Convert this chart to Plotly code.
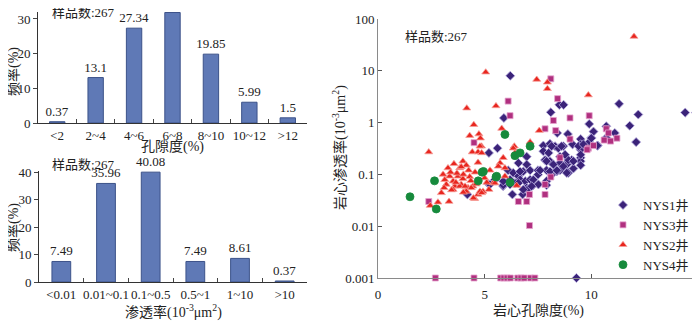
import plotly.graph_objects as go

# porosity histogram
por_cats = ['<2', '2~4', '4~6', '6~8', '8~10', '10~12', '>12']
por_freq = [0.37, 13.1, 27.34, 31.85, 19.85, 5.99, 1.5]

# permeability histogram
perm_cats = ['<0.01', '0.01~0.1', '0.1~0.5', '0.5~1', '1~10', '>10']
perm_freq = [7.49, 35.96, 40.08, 7.49, 8.61, 0.37]

# core porosity (%) vs permeability (10^-3 um^2), per well
nys1_x = [6.2, 8.5, 8.7, 11.3, 14.4, 14.9, 12.2, 11.8, 12.1, 5.9, 8.1, 9.9, 10.1, 10.7, 11.1,
          10.7, 10.0, 9.6, 10.3, 9.5, 9.5, 9.5, 8.4, 8.9, 9.5, 9.9, 9.5, 9.5, 9.5,
          7.75, 8.06, 8.3, 7.75, 8.0, 8.45, 8.69, 7.83, 8.06, 8.53, 8.77, 8.92, 8.69, 8.53,
          8.85, 9.08, 9.16, 8.92, 7.9, 8.14, 8.38,
          5.2, 5.6, 6.97, 6.1, 6.34, 6.58, 6.81, 7.13, 7.5, 6.66, 6.9, 6.42, 6.19, 5.87,
          6.97, 7.13, 7.5, 7.9, 6.3, 6.78, 7.0, 5.2, 5.87, 7.28, 7.9, 4.19, 9.3,
          5.87, 6.66, 7.6, 7.28, 7.52, 7.2, 6.19, 5.48, 5.25, 8.06, 8.38, 8.53, 8.69,
          8.92, 8.77, 8.85, 9.16, 8.22, 7.9, 6.58, 6.97, 6.58, 6.81,
          8.14, 8.6, 9.12, 9.4, 9.63, 10.0, 10.28]
nys1_y = [8.0, 2.2, 2.2, 2.3, 1.56, 1.56, 1.43, 0.87, 0.42, 1.23, 1.58, 0.94, 0.67, 0.85, 0.63,
          0.51, 0.51, 0.39, 0.36, 0.21, 0.18, 0.15, 0.63, 0.6, 0.48, 0.42, 0.38, 0.30, 0.24,
          0.36, 0.39, 0.35, 0.28, 0.26, 0.32, 0.35, 0.19, 0.18, 0.22, 0.24, 0.18, 0.14, 0.12,
          0.155, 0.19, 0.13, 0.107, 0.12, 0.099, 0.114,
          0.26, 0.32, 0.22, 0.12, 0.107, 0.092, 0.114, 0.12, 0.12, 0.079, 0.074, 0.068, 0.079, 0.059,
          0.055, 0.079, 0.099, 0.074, 0.041, 0.041, 0.051, 0.064, 0.062, 0.062, 0.062, 0.041, 0.001,
          0.074, 0.114, 0.12, 0.079, 0.064, 0.059, 0.064, 0.079, 0.064, 0.114, 0.12, 0.166, 0.143,
          0.19, 0.24, 0.107, 0.18, 0.155, 0.18, 0.166, 0.155, 0.068, 0.051,
          0.35, 0.35, 0.38, 0.35, 0.38, 0.5, 0.36]

nys3_x = [8.1, 6.1, 8.42, 6.19, 8.22, 9.0, 9.9, 7.83, 8.33, 10.7, 10.8, 11.2, 10.6, 10.9,
          9.86, 10.1, 9.0, 4.5, 2.38, 7.1, 7.83, 6.58, 6.97, 7.1, 7.83, 8.1, 8.53, 9.8,
          2.69, 4.5, 5.75, 5.9, 6.05, 6.2, 6.55, 6.7, 6.85, 7.15, 7.35]
nys3_y = [7.0, 2.6, 2.9, 1.36, 1.1, 1.23, 1.36, 0.76, 0.70, 0.76, 0.63, 0.5, 0.46, 0.44,
          0.32, 0.36, 0.48, 0.41, 0.030, 0.041, 0.041, 0.030, 0.030, 0.0103, 0.064, 0.089, 0.21, 0.30,
          0.001, 0.001, 0.001, 0.001, 0.001, 0.001, 0.001, 0.001, 0.001, 0.001, 0.001]

nys2_x = [12.0, 5.05, 7.44, 7.94, 7.94, 9.86, 4.16, 5.53, 4.49, 4.3, 4.73, 4.8, 5.8, 7.56,
          7.13, 6.39, 2.38, 4.42, 4.69, 4.85, 4.69, 3.56, 3.98, 4.14, 3.83, 3.28, 3.13, 3.36,
          3.52, 3.75, 3.98, 3.2, 3.6, 3.9, 4.22, 4.45, 2.45, 2.81, 3.33, 2.97, 3.52, 3.83,
          4.14, 4.37, 4.53, 4.69, 4.92, 4.47, 4.08, 4.78, 5.25, 5.72, 5.87, 5.95, 5.64, 6.34,
          6.42, 5.95, 5.4, 6.5, 5.2, 5.48, 4.86, 4.86, 4.78,
          3.4, 3.7, 4.0, 4.3, 3.05, 3.65, 4.35, 3.45, 4.0, 3.1, 4.6, 4.25, 3.9, 4.55, 5.0, 5.1]
nys2_y = [46, 9.4, 6.8, 6.0, 4.5, 3.4, 1.9, 2.1, 0.91, 0.56, 0.6, 0.5, 0.77, 0.70,
          0.42, 0.35, 0.27, 0.27, 0.27, 0.35, 0.17, 0.16, 0.18, 0.15, 0.133, 0.133, 0.079, 0.092,
          0.074, 0.092, 0.082, 0.064, 0.059, 0.064, 0.055, 0.059, 0.025, 0.029, 0.030, 0.044, 0.051, 0.059,
          0.047, 0.055, 0.034, 0.041, 0.047, 0.035, 0.059, 0.047, 0.12, 0.166, 0.21, 0.133, 0.143, 0.32,
          0.26, 0.092, 0.068, 0.061, 0.051, 0.068, 0.044, 0.26, 0.35,
          0.11, 0.105, 0.1, 0.09, 0.1, 0.07, 0.075, 0.05, 0.045, 0.055, 0.065, 0.12, 0.14, 0.11, 0.085, 0.07]

nys4_x = [1.5, 2.65, 2.73, 4.7, 4.88, 5.56, 5.95, 6.42, 6.66, 7.13, 6.19, 5.53, 4.94]
nys4_y = [0.037, 0.075, 0.0215, 0.075, 0.11, 0.092, 0.59, 0.23, 0.26, 0.35, 0.07, 0.089, 0.114]

FONT = 'Liberation Serif, Noto Sans CJK SC, serif'
BAR_FILL = '#5f79b6'
BAR_EDGE = '#3c5289'
W, H = 700, 321
PAGE_PAD = 8  # the page body's default margin shifts the figure


def fx(px):
    return (px - PAGE_PAD) / W


def fy(py):
    return 1 - (py - PAGE_PAD) / H


fig = go.Figure()

fig.add_trace(go.Bar(x=por_cats, y=por_freq, text=[str(v) for v in por_freq],
                     textposition='outside', cliponaxis=False, constraintext='none',
                     marker=dict(color=BAR_FILL, line=dict(color=BAR_EDGE, width=1)),
                     width=0.4, showlegend=False, xaxis='x', yaxis='y'))
fig.add_trace(go.Bar(x=perm_cats, y=perm_freq, text=[str(v) for v in perm_freq],
                     textposition='outside', cliponaxis=False, constraintext='none',
                     marker=dict(color=BAR_FILL, line=dict(color=BAR_EDGE, width=1)),
                     width=0.42, showlegend=False, xaxis='x2', yaxis='y2'))

wells = [
    ('NYS1井', nys1_x, nys1_y, 'diamond', '#3b2379', '#b9aee0', 7),
    ('NYS3井', nys3_x, nys3_y, 'square', '#b0307f', '#e6a5cf', 6),
    ('NYS2井', nys2_x, nys2_y, 'triangle-up', '#e8261f', '#f6a09a', 7),
    ('NYS4井', nys4_x, nys4_y, 'circle', '#168a3c', '#168a3c', 8),
]
for name, xs, ys, sym, col, edge, size in wells:
    fig.add_trace(go.Scatter(x=xs, y=ys, mode='markers', name=name, cliponaxis=False,
                             marker=dict(symbol=sym, color=col, size=size,
                                         line=dict(color=edge, width=0.8)),
                             xaxis='x3', yaxis='y3'))

axis_common = dict(showline=True, linecolor='#333333', linewidth=1, showgrid=False,
                   zeroline=False, automargin=False,
                   tickfont=dict(family=FONT, size=13, color='#222'))
scatter_axis = {**axis_common, 'linecolor': '#8a8a8a', 'tickcolor': '#555'}

fig.update_layout(
    width=W, height=H,
    margin=dict(l=0, r=0, t=0, b=0),
    paper_bgcolor='white', plot_bgcolor='white',
    font=dict(family=FONT, size=13, color='#222'),
    xaxis=dict(domain=[fx(38), fx(307)], anchor='y', type='category',
               tickson='boundaries', ticks='inside', ticklen=4, tickangle=0,
               **axis_common),
    yaxis=dict(domain=[fy(123), fy(12)], anchor='x', range=[0, 32],
               tickvals=[0, 10, 20, 30], ticks='outside', ticklen=4,
               **axis_common),
    xaxis2=dict(domain=[fx(39), fx(307)], anchor='y2', type='category',
                tickson='boundaries', ticks='inside', ticklen=4, tickangle=0,
                **axis_common),
    yaxis2=dict(domain=[fy(282), fy(171)], anchor='x2', range=[0, 40.5],
                tickvals=[0, 10, 20, 30, 40], ticks='outside', ticklen=4,
                **axis_common),
    xaxis3=dict(domain=[fx(378), fx(698)], anchor='y3', range=[0, 15],
                tickvals=[0, 5, 10, 15], ticks='inside', ticklen=4, ticklabelstandoff=4,
                **scatter_axis),
    yaxis3=dict(domain=[fy(278), fy(19)], anchor='x3', type='log', range=[-3, 2],
                tickvals=[0.001, 0.01, 0.1, 1, 10, 100],
                ticktext=['0.001', '0.01', '0.1', '1', '10', '100'],
                ticks='inside', ticklen=4,
                **scatter_axis),
    legend=dict(x=fx(603), y=fy(190), xanchor='left', yanchor='top',
                bgcolor='rgba(0,0,0,0)', font=dict(family=FONT, size=13),
                itemwidth=30, tracegroupgap=0),
)

# axis titles and sample counts, placed in screen pixels
labels = [
    ('频率(%)', 13, 72, -90),
    ('频率(%)', 13, 228, -90),
    ('孔隙度(%)', 172, 147, 0),
    ('渗透率(10<sup>-3</sup>μm<sup>2</sup>)', 173, 311, 0),
    ('岩心渗透率(10<sup>-3</sup>μm<sup>2</sup>)', 339, 148, -90),
    ('岩心孔隙度(%)', 538, 311, 0),
]
for text, px, py, ang in labels:
    fig.add_annotation(text=text, x=fx(px), y=fy(py), xref='paper', yref='paper',
                       xanchor='center', yanchor='middle', textangle=ang,
                       showarrow=False, font=dict(size=14))

for px, py in [(50, 12), (50, 164), (403, 36)]:
    fig.add_annotation(text='样品数:267', x=fx(px), y=fy(py), xref='paper', yref='paper',
                       xanchor='left', yanchor='middle', showarrow=False, font=dict(size=13))

fig.write_html('out.html')
